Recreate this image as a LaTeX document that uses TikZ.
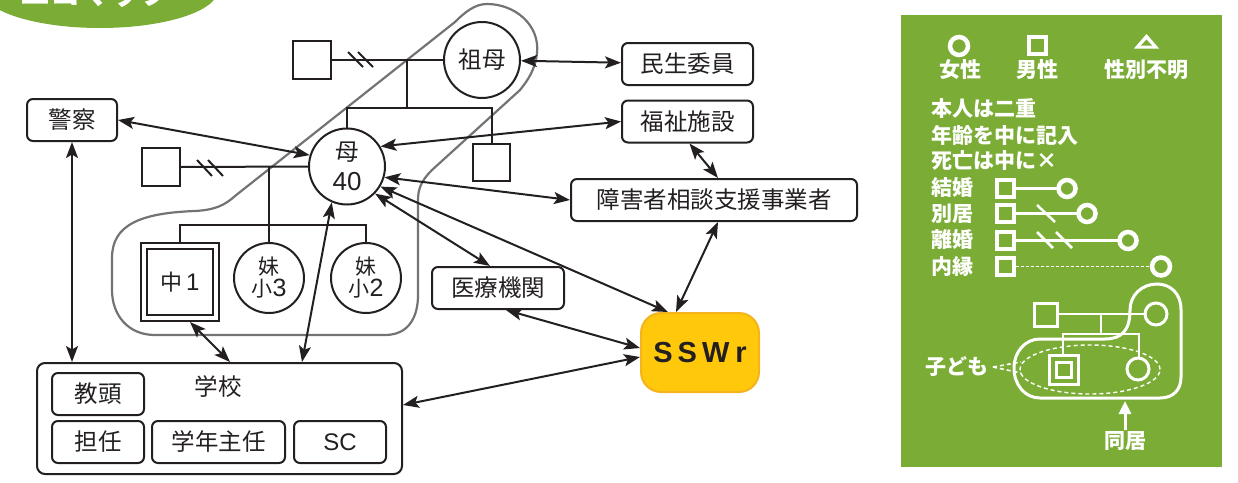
\documentclass[tikz,border=0pt]{standalone}
\usepackage{fontspec}
\newfontfamily\jp{Noto Sans CJK JP}
\newfontfamily\lat{Liberation Sans}
\usetikzlibrary{arrows.meta}
\definecolor{ink}{RGB}{35,31,32}
\definecolor{leaf}{RGB}{123,173,54}
\definecolor{gold}{RGB}{255,200,10}
\definecolor{goldline}{RGB}{245,180,30}
\definecolor{outlinegray}{RGB}{115,115,115}
\begin{document}
\begin{tikzpicture}[x=1pt,y=-1pt,color=ink,line width=2pt,
  >={Stealth[length=16pt,width=12pt,inset=3.5pt]},
  ar/.style={<->,line width=2pt},
  box/.style={draw,rounded corners=6pt,line width=2pt,inner sep=0pt,minimum height=42pt,font=\jp\fontsize{23.5}{26}\selectfont},
  psq/.style={draw,line width=2pt,inner sep=0pt,minimum size=38pt},
  pci/.style={draw,circle,line width=2pt,inner sep=0pt,align=center},
  wt/.style={text=white,font=\jp\bfseries\fontsize{21}{23}\selectfont,inner sep=0pt},
  wl/.style={draw=white,line width=4.5pt},
  wc/.style={draw=white,line width=2.5pt}]
\useasboundingbox (0,0) rectangle (1238,482);

% title
\fill[leaf] (100,-10) ellipse [x radius=118pt, y radius=38pt];
\node[anchor=base,text=white,font=\jp\bfseries\fontsize{30}{30}\selectfont,inner sep=0pt] (ttl) at (95,4) {エコマップ};

% cohabitation outline
\draw[outlinegray,line width=2.2pt] (487,4) .. controls (515,4) and (540,25) .. (537,53)
  .. controls (535,70) and (528,80) .. (520,90) -- (432,170)
  .. controls (422,180) and (418,188) .. (418,200) -- (418,295)
  .. controls (418,318) and (408,335) .. (385,335) -- (155,335)
  .. controls (128,335) and (112,315) .. (112,290) -- (112,258)
  .. controls (112,225) and (140,213) .. (195,211)
  .. controls (215,210) and (225,205) .. (235,196) -- (455,22)
  .. controls (465,12) and (475,4) .. (487,4);

% people
\node[psq] (gf) at (312,60) {};
\node[pci,minimum size=76pt,font=\jp\fontsize{23.5}{26}\selectfont] (gm) at (482,60) {祖母};
\node[psq,minimum size=37pt] (un) at (491.5,162.5) {};
\node[pci,minimum size=76pt,font=\jp\fontsize{23.5}{30}\selectfont] (mo) at (347,166.5) {母\\{\lat\fontsize{26}{30}\selectfont 40}};
\node[psq] (mx) at (161,167) {};
\node[psq,minimum size=78pt] (c1) at (180,282) {};
\node[psq,minimum size=66pt,font=\jp\fontsize{22}{24}\selectfont] (c1in) at (180,282) {中\,{\lat\fontsize{24}{24}\selectfont 1}};
\node[pci,minimum size=70pt,font=\jp\fontsize{21}{22}\selectfont] (s3) at (269,278) {妹\\小{\lat\fontsize{25}{22}\selectfont 3}};
\node[pci,minimum size=70pt,font=\jp\fontsize{21}{22}\selectfont] (s2) at (366,278) {妹\\小{\lat\fontsize{25}{22}\selectfont 2}};

% family lines
\coordinate (j1) at (407,60);
\coordinate (j1b) at (407,108);
\coordinate (j2) at (269,167);
\coordinate (j2b) at (269,225);
\draw (gf.east) -- (gm.west);
\draw (j1) -- (j1b);
\draw (mo.north) |- (j1b) -| (un.north);
\draw (348,52) -- (363,67);
\draw (358,52) -- (373,67);
\draw (mx.east) -- (mo.west);
\draw (j2) -- (j2b);
\draw (c1.north) |- (j2b) -| (s2.north);
\draw (j2b) -- (s3.north);
\draw (197,160) -- (212,176);
\draw (208,160) -- (223,176);

% organisations
\node[box,minimum width=90pt] (pol) at (72,120) {警察};
\node[box,minimum width=131pt] (min) at (687.5,64) {民生委員};
\node[box,minimum width=131pt] (fuku) at (687.5,121.5) {福祉施設};
\node[box,minimum width=286pt] (sho) at (714,200) {障害者相談支援事業者};
\node[box,minimum width=132pt] (iryo) at (498,288) {医療機関};
\node[draw=goldline,fill=gold,rounded corners=20pt,line width=2pt,minimum width=118pt,minimum height=79pt,inner sep=0pt,font=\lat\bfseries\fontsize{29}{30}\selectfont] (sswr) at (700,352.5) {S\hspace{5pt}S\hspace{5pt}W\hspace{6pt}r};

% school
\node[draw,rounded corners=8pt,line width=2pt,minimum width=365pt,minimum height=111pt,inner sep=0pt] (sch) at (219.5,418.5) {};
\node[font=\jp\fontsize{23.5}{26}\selectfont,inner sep=0pt] (schl) at (218,387) {学校};
\node[box,minimum width=92pt] (kyo) at (98,394) {教頭};
\node[box,minimum width=92pt] (tan) at (98,442) {担任};
\node[box,minimum width=133pt] (gak) at (218.5,442) {学年主任};
\node[box,minimum width=92pt,font=\lat\fontsize{24}{26}\selectfont] (sc) at (340,442) {SC};

% connectors
\draw[ar] (gm) -- (min);
\draw[ar] (pol.east) -- (mo.163);
\draw[ar] (mo.31) -- (fuku.west);
\draw[ar] (mo.-16) -- (sho.west);
\draw[ar] (mo.-31) -- ([xshift=-32pt]sswr.north);
\draw[ar] (mo.-44) -- ([xshift=-8pt]iryo.north);
\draw[ar] ([xshift=2pt]fuku.south) -- ([xshift=4pt]sho.north);
\draw[ar] ([xshift=4pt]sho.south) -- ([xshift=-24pt]sswr.north);
\draw[ar] ([xshift=8pt]iryo.south) -- ([yshift=4.5pt]sswr.west);
\draw[ar] ([yshift=13.5pt]sch.east) -- ([yshift=-4.5pt]sswr.west);
\draw[ar] (pol.south) -- (pol.south |- sch.north);
\draw[ar] ([xshift=10pt]c1.south) -- ([xshift=10.5pt]sch.north);
\draw[ar] (mo.-113) -- ([xshift=82.5pt]sch.north);

% legend
\fill[leaf] (901,15) rectangle (1222,467);
\draw[wl] (959,46) circle [radius=9pt];
\draw[wl] (1029,37) rectangle (1046,54);
\fill[white] (1134,48.5) -- (1159,48.5) -- (1146.5,34) -- cycle;
\fill[leaf] (1141,45.5) -- (1152,45.5) -- (1146.5,39.5) -- cycle;
\node[wt] (lf) at (960,70) {女性};
\node[wt] (lm) at (1037,70) {男性};
\node[wt] (lu) at (1146,70) {性別不明};
\node[wt,anchor=west] (l1) at (930,108) {本人は二重};
\node[wt,anchor=west] (l2) at (930,135) {年齢を中に記入};
\node[wt,anchor=west] (l3) at (930,161) {死亡は中に×};
\node[wt,anchor=west] (l4) at (930,188) {結婚};
\node[wt,anchor=west] (l5) at (930,214) {別居};
\node[wt,anchor=west] (l6) at (930,240) {離婚};
\node[wt,anchor=west] (l7) at (930,267) {内縁};
% marriage
\draw[wl] (997,180) rectangle (1014,197);
\draw[wc] (1016,188.5) -- (1057,188.5);
\draw[wl] (1067,188.5) circle [radius=8.5pt];
% separation
\draw[wl] (997,205) rectangle (1014,222);
\draw[wc] (1016,213.5) -- (1077,213.5);
\draw[wc] (1037,205) -- (1055,222);
\draw[wl] (1087,213.5) circle [radius=8.5pt];
% divorce
\draw[wl] (997,232) rectangle (1014,249);
\draw[wc] (1016,240.5) -- (1118,240.5);
\draw[wc] (1037,232) -- (1053,248);
\draw[wc] (1056,232) -- (1072,248);
\draw[wl] (1128,240.5) circle [radius=8.5pt];
% common-law
\draw[wl] (997,258) rectangle (1014,275);
\draw[draw=white,line width=1.5pt,dash pattern=on 3pt off 2pt] (1016,266.5) -- (1151,266.5);
\draw[wl] (1161,266.5) circle [radius=9pt];
% small family example
\draw[draw=white,line width=3pt] (1034,303) rectangle (1057,326);
\draw[draw=white,line width=3pt] (1156,314) circle [radius=11pt];
\draw[draw=white,line width=2.2pt] (1058.5,314) -- (1144.5,314);
\draw[draw=white,line width=2.2pt] (1101,314) -- (1101,334);
\draw[draw=white,line width=2.2pt] (1063,355) |- (1101,334) -| (1139,357.5);
\draw[draw=white,line width=3pt] (1049,355) rectangle (1078,384);
\draw[draw=white,line width=3pt] (1056,362) rectangle (1071,377);
\draw[draw=white,line width=3pt] (1138,369) circle [radius=11pt];
\draw[draw=white,line width=1.4pt,dash pattern=on 4pt off 3pt] (1090,369.5) ellipse [x radius=70pt, y radius=24.5pt];
\draw[draw=white,line width=3pt] (1040,398) -- (1160,398) .. controls (1173,398) and (1181,390) .. (1181,377) -- (1181,310)
  .. controls (1181,293) and (1170,284) .. (1157,284) .. controls (1142,284) and (1130,295) .. (1130,310)
  .. controls (1130,330) and (1122,339) .. (1105,339) -- (1040,339)
  .. controls (1025,339) and (1014,352) .. (1014,368) .. controls (1014,385) and (1025,398) .. (1040,398) -- cycle;
\node[wt] (kid) at (957,367) {子ども};
\coordinate (kidr) at (993,367);
\draw[draw=white,line width=1.6pt,dash pattern=on 4pt off 3pt] (kidr) -- (1021,362);
\draw[draw=white,line width=1.6pt,dash pattern=on 4pt off 3pt] (kidr) -- (1021,373);
\node[wt] (coh) at (1125,441) {同居};
\coordinate (cohtip) at (1125,401);
\draw[draw=white,line width=3pt,-{Triangle[length=13pt,width=12pt]}] (coh.north) -- (cohtip);
\end{tikzpicture}
\end{document}
